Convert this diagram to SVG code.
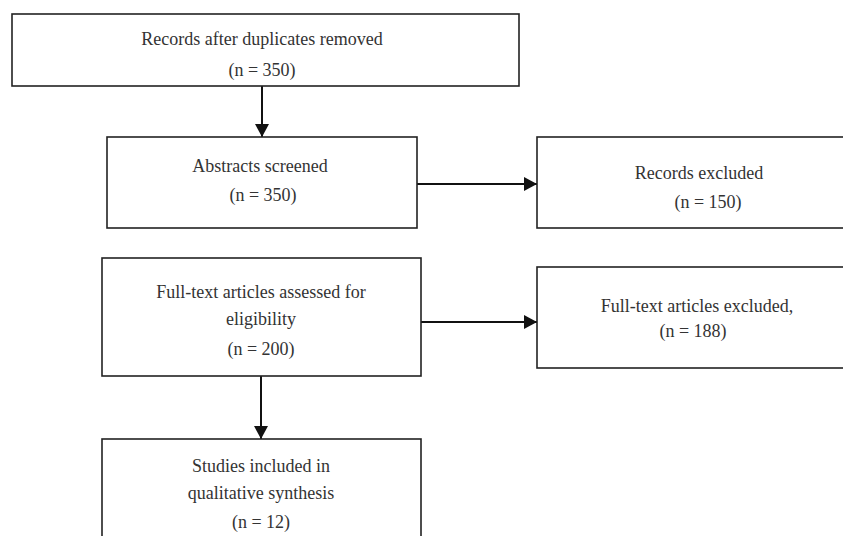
<svg xmlns="http://www.w3.org/2000/svg" width="843" height="536" viewBox="0 0 843 536">
<defs>
<marker id="ah" markerWidth="14" markerHeight="14" refX="13" refY="7" orient="auto" markerUnits="userSpaceOnUse">
<path d="M0,0 L13,7 L0,14 Z" fill="#111"/>
</marker>
<style>
.box{fill:#fff;stroke:#222;stroke-width:1.6}
.t{font-family:"Liberation Serif","Times New Roman",serif;font-size:18px;fill:#333;text-anchor:middle}
.c{stroke:#111;stroke-width:2;fill:none}
</style>
</defs>
<rect width="843" height="536" fill="#fff"/>
<g id="connectors">
<line class="c" x1="262" y1="86" x2="262" y2="137" marker-end="url(#ah)"/>
<line class="c" x1="417" y1="184" x2="537" y2="184" marker-end="url(#ah)"/>
<line class="c" x1="421" y1="322" x2="537" y2="322" marker-end="url(#ah)"/>
<line class="c" x1="261" y1="376" x2="261" y2="439" marker-end="url(#ah)"/>
</g>
<g id="n1">
<rect class="box" x="12" y="14" width="507" height="72"/>
<text class="t" x="262" y="45">Records after duplicates removed</text>
<text class="t" x="262" y="76">(n = 350)</text>
</g>
<g id="n2">
<rect class="box" x="107" y="137" width="310" height="91"/>
<text class="t" x="260" y="172">Abstracts screened</text>
<text class="t" x="263" y="201">(n = 350)</text>
</g>
<g id="n3">
<rect class="box" x="537" y="137" width="320" height="91"/>
<text class="t" x="699" y="179">Records excluded</text>
<text class="t" x="708" y="208">(n = 150)</text>
</g>
<g id="n4">
<rect class="box" x="102" y="258" width="319" height="118"/>
<text class="t" x="261" y="298">Full-text articles assessed for</text>
<text class="t" x="261" y="325">eligibility</text>
<text class="t" x="261" y="355">(n = 200)</text>
</g>
<g id="n5">
<rect class="box" x="537" y="267" width="320" height="101"/>
<text class="t" x="697" y="312">Full-text articles excluded,</text>
<text class="t" x="693" y="337">(n = 188)</text>
</g>
<g id="n6">
<rect class="box" x="102" y="439" width="319" height="110"/>
<text class="t" x="261" y="472">Studies included in</text>
<text class="t" x="261" y="499">qualitative synthesis</text>
<text class="t" x="261" y="528">(n = 12)</text>
</g>
</svg>
